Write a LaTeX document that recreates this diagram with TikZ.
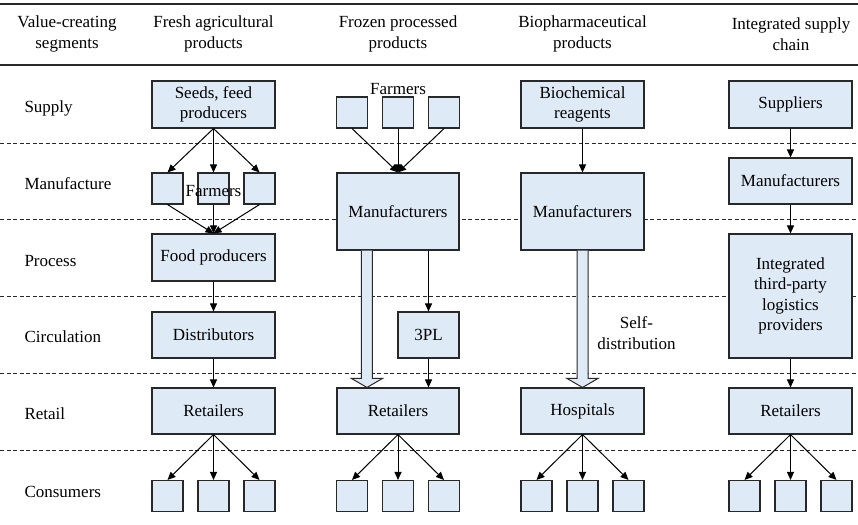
\documentclass[tikz,border=0pt]{standalone}
\usepackage{fontspec}
\setmainfont{Liberation Serif}
\usetikzlibrary{arrows.meta,calc}
\definecolor{boxfill}{RGB}{222,234,246}
\definecolor{edge}{RGB}{40,40,40}
\begin{document}
\begin{tikzpicture}[x=1pt,y=-1pt,
  font=\fontsize{17}{20.5}\selectfont,
  box/.style={draw=edge,line width=1.1pt,fill=boxfill,inner sep=2pt,align=center,
    minimum width=123pt,minimum height=46pt},
  small/.style={box,minimum width=31pt,minimum height=31pt},
  lbl/.style={anchor=base west},
  hdr/.style={align=center},
  rule/.style={draw=edge,line width=1.3pt},
  sep/.style={draw=edge,line width=0.9pt,dash pattern=on 4pt off 2.5pt},
  arr/.style={draw=black,line width=1pt,-{Triangle[length=8pt,width=7pt]}},
  fat/.style={draw=edge,line width=1pt,fill=boxfill,line join=miter}]
\useasboundingbox (0,0) rectangle (858,524);

% header rules and segment separators
\draw[rule] (0,4) -- (858,4);
\draw[rule] (0,65) -- (858,65);
\foreach \yy in {143,219.5,296,373,450}
  \draw[sep] (0,\yy) -- (858,\yy);

% column headers
\node[hdr] (h0) at (67,34) {Value-creating\\segments};
\node[hdr] (h1) at (213.5,34) {Fresh agricultural\\products};
\node[hdr] (h2) at (398,34) {Frozen processed\\products};
\node[hdr] (h3) at (582.5,34) {Biopharmaceutical\\products};
\node[hdr] (h4) at (791,34) {Integrated supply\\chain};

% segment labels
\node[lbl] (r1) at (21,112) {Supply};
\node[lbl] (r2) at (21,189) {Manufacture};
\node[lbl] (r3) at (21,266) {Process};
\node[lbl] (r4) at (21,342.5) {Circulation};
\node[lbl] (r5) at (21,419.5) {Retail};
\node[lbl] (r6) at (21,497) {Consumers};

% fresh agricultural products
\node[box,minimum height=47pt] (seeds) at (213.5,104.5) {Seeds, feed\\producers};
\node[small] (f1a) at (167.5,188.5) {};
\node[small] (f1b) at (213.5,188.5) {};
\node[small] (f1c) at (259.5,188.5) {};
\node[box,minimum height=47pt] (food) at (213.5,257.5) {Food producers};
\node[box] (dist) at (213.5,335) {Distributors};
\node[box] (ret1) at (213.5,411) {Retailers};
\node[small] (c1a) at (167.5,496) {};
\node[small] (c1b) at (213.5,496) {};
\node[small] (c1c) at (259.5,496) {};
\node[anchor=base] (farm1) at (213.5,196) {Farmers};

% frozen processed products
\node[anchor=base] (farm2) at (398,95) {Farmers};
\node[small] (f2a) at (352,112.5) {};
\node[small] (f2b) at (398,112.5) {};
\node[small] (f2c) at (444,112.5) {};
\node[box,minimum width=122pt,minimum height=77pt] (man2) at (398,211.5) {Manufacturers};
\node[box,minimum width=61pt] (pl) at (428.5,335) {3PL};
\node[box,minimum width=122pt] (ret2) at (398,411) {Retailers};
\node[small] (c2a) at (352,496) {};
\node[small] (c2b) at (398,496) {};
\node[small] (c2c) at (444,496) {};

% biopharmaceutical products
\node[box,minimum height=47pt] (bio) at (582.5,104.5) {Biochemical\\reagents};
\node[box,minimum height=77pt] (man3) at (582.5,211.5) {Manufacturers};
\node[box] (hosp) at (582.5,411) {Hospitals};
\node[small] (c3a) at (536.5,496) {};
\node[small] (c3b) at (582.5,496) {};
\node[small] (c3c) at (628.5,496) {};
\node[align=center] (self) at (636.5,333) {Self-\\distribution};

% integrated supply chain
\node[box,minimum height=47pt] (sup) at (790.5,104.5) {Suppliers};
\node[box] (man4) at (790.5,181) {Manufacturers};
\node[box,minimum height=124pt] (tpl) at (790.5,296) {Integrated\\third-party\\logistics\\providers};
\node[box] (ret4) at (790.5,411) {Retailers};
\node[small] (c4a) at (744.5,496) {};
\node[small] (c4b) at (790.5,496) {};
\node[small] (c4c) at (836.5,496) {};

% connectors: fresh agricultural products
\foreach \t in {f1a,f1b,f1c} {
  \draw[arr] (seeds.south) -- (\t.north);
  \draw[arr] (\t.south) -- (food.north);
}
\draw[arr] (food) -- (dist);
\draw[arr] (dist) -- (ret1);
\foreach \t in {c1a,c1b,c1c} \draw[arr] (ret1.south) -- (\t.north);

% connectors: frozen processed products
\foreach \t in {f2a,f2b,f2c} \draw[arr] (\t.south) -- (man2.north);
\draw[arr] (man2.south -| pl.north) -- (pl.north);
\draw[arr] (pl) -- (ret2.north -| pl.south);
\foreach \t in {c2a,c2b,c2c} \draw[arr] (ret2.south) -- (\t.north);
\path (man2.south west) ++(30.5,0) coordinate (fa2);
\coordinate (fb2) at (fa2 |- ret2.north);
\draw[fat] ($(fa2)+(-5.5,0)$) -- ($(fb2)+(-5.5,-9)$) -- ($(fb2)+(-15.5,-9)$)
  -- (fb2) -- ($(fb2)+(15.5,-9)$) -- ($(fb2)+(5.5,-9)$) -- ($(fa2)+(5.5,0)$);

% connectors: biopharmaceutical products
\draw[arr] (bio) -- (man3);
\coordinate (fa3) at (man3.south);
\coordinate (fb3) at (hosp.north);
\draw[fat] ($(fa3)+(-5.5,0)$) -- ($(fb3)+(-5.5,-9)$) -- ($(fb3)+(-15.5,-9)$)
  -- (fb3) -- ($(fb3)+(15.5,-9)$) -- ($(fb3)+(5.5,-9)$) -- ($(fa3)+(5.5,0)$);
\foreach \t in {c3a,c3b,c3c} \draw[arr] (hosp.south) -- (\t.north);

% connectors: integrated supply chain
\draw[arr] (sup) -- (man4);
\draw[arr] (man4) -- (tpl);
\draw[arr] (tpl) -- (ret4);
\foreach \t in {c4a,c4b,c4c} \draw[arr] (ret4.south) -- (\t.north);
\end{tikzpicture}
\end{document}
